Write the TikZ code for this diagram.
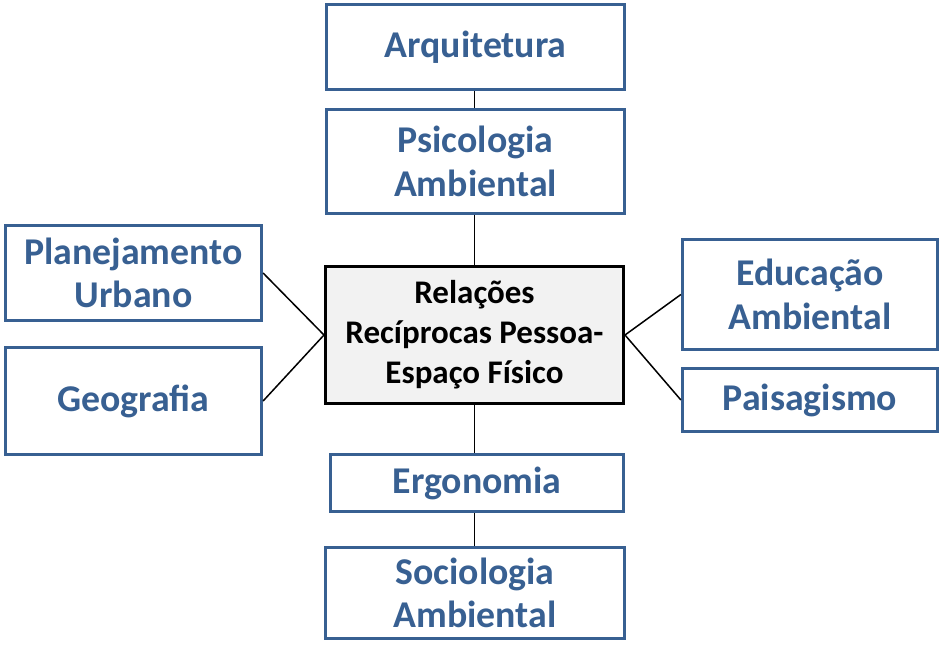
\documentclass[tikz,border=0pt]{standalone}
\usepackage{fontspec}
\setmainfont{Carlito}
\usetikzlibrary{positioning}
\definecolor{boxblue}{RGB}{56,96,146}
\definecolor{boxgray}{RGB}{242,242,242}
\tikzset{block/.style = {draw=boxblue, line width=3.2pt, fill=white, rectangle,
                  text=boxblue, align=center, inner sep=0pt,
                  font=\fontsize{37.8}{43.5}\selectfont\bfseries},
        core/.style = {draw=black, line width=3pt, fill=boxgray, rectangle,
                  align=center, inner sep=0pt,
                  font=\fontsize{33}{40}\selectfont\bfseries},
        link/.style = {line width=1.5pt}
    }

\begin{document}
\begin{tikzpicture}[x=1pt, y=-1pt]
          \useasboundingbox (0,0) rectangle (940,662);

          % central box
          \node[core, minimum width=298, minimum height=137] (rel) at (474.5,335)
               {Relações\\Recíprocas Pessoa-\\Espaço Físico};

          % upper column
          \node[block, minimum width=298, minimum height=85] (arq) at (475.5,47) {Arquitetura};
          \node[block, minimum width=298, minimum height=104] (psi) at (475.5,161.5) {Psicologia\\Ambiental};

          % left side
          \node[block, minimum width=256, minimum height=95] (plan) at (133.5,273) {Planejamento\\Urbano};
          \node[block, minimum width=256, minimum height=107] (geo) at (133.5,401) {Geografia};

          % right side
          \node[block, minimum width=255, minimum height=110] (edu) at (810,294.5) {Educação\\Ambiental};
          \node[block, minimum width=255, minimum height=63] (pai) at (810,400) {Paisagismo};

          % lower column
          \node[block, minimum width=293, minimum height=57] (erg) at (477,483) {Ergonomia};
          \node[block, minimum width=299, minimum height=91] (soc) at (475,593) {Sociologia\\Ambiental};

          \draw[link] (arq.south -| rel.north) -- (psi.north -| rel.north) ;
          \draw[link] (psi.south -| rel.north) -- (rel.north) ;
          \draw[link] (rel.south) -- (erg.north -| rel.south) ;
          \draw[link] (erg.south -| rel.south) -- (soc.north -| rel.south) ;
          \foreach \n in {plan,geo} {
            \draw[link] (\n.east) -- (rel.west) ;
          }
          \foreach \n in {edu,pai} {
            \draw[link] (rel.east) -- (\n.west) ;
          }
        \end{tikzpicture}
\end{document}
